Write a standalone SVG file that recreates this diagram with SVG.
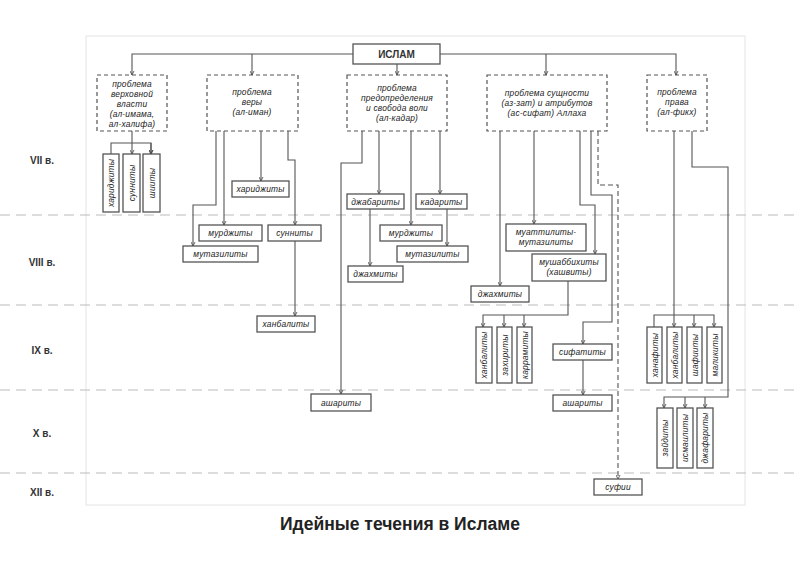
<svg xmlns="http://www.w3.org/2000/svg" width="800" height="561" viewBox="0 0 800 561">
<defs>
<marker id="a" viewBox="0 0 10 10" refX="9" refY="5" markerWidth="5" markerHeight="5" orient="auto" markerUnits="userSpaceOnUse"><path d="M1,1 L9,5 L1,9" fill="none" stroke="#444" stroke-width="1.6"/></marker>
<style>
.b{fill:#fff;stroke:#555;stroke-width:1.3}
.d{fill:#fff;stroke:#555;stroke-width:1.2;stroke-dasharray:4,3}
.t{font-family:"Liberation Sans",Arial,sans-serif;font-style:italic;font-size:8.4px;letter-spacing:0.2px;fill:#222;text-anchor:middle}
.e{font-family:"Liberation Sans",Arial,sans-serif;font-weight:bold;font-size:10px;fill:#333;text-anchor:middle}
.c path{fill:none;stroke:#555;stroke-width:1.1}
.c path.ar{marker-end:url(#a)}
</style>
</defs>
<rect width="800" height="561" fill="#fff"/>
<rect x="86" y="36" width="659" height="469" fill="none" stroke="#e4e4e4" stroke-width="1"/>
<g stroke="#bbb" stroke-width="1" stroke-dasharray="10,6">
<line x1="0" y1="215" x2="800" y2="215"/><line x1="0" y1="305" x2="800" y2="305"/><line x1="0" y1="390" x2="800" y2="390"/><line x1="0" y1="473" x2="800" y2="473"/>
</g>
<g class="e"><text x="42" y="164">VII в.</text><text x="42" y="266">VIII в.</text><text x="42" y="354">IX в.</text><text x="42" y="437">X в.</text><text x="42" y="496">XII в.</text></g>
<g class="c" id="connectors">
<path d="M353,54 H132 V75" class="ar"/><path d="M252,54 V75" class="ar"/><path d="M397,64 V75" class="ar"/>
<path d="M440,54 H676 V75" class="ar"/><path d="M546,54 V75" class="ar"/>
<path d="M132,131 V154" class="ar"/><path d="M111,154 V143 H151 V154" class="ar"/><path d="M151,143 V154" class="ar"/>
<path d="M261,131 V181" class="ar"/>
<path d="M216,131 V205 H193 V246" class="ar"/>
<path d="M224,131 V225" class="ar"/>
<path d="M288,131 V160 H295 V225" class="ar"/>
<path d="M295,241 V316" class="ar"/>
<path d="M362,131 V163 H341 V394" class="ar"/>
<path d="M379,131 V194" class="ar"/>
<path d="M370,209 V266" class="ar"/>
<path d="M411,131 V225" class="ar"/>
<path d="M440,131 V194" class="ar"/>
<path d="M447,209 V246" class="ar"/>
<path d="M500,131 V286" class="ar"/>
<path d="M534,131 V224" class="ar"/>
<path d="M580,131 V205 H595 V254" class="ar"/>
<path d="M591,131 V195 H612 V322 H583 V344" class="ar"/>
<path d="M583,360 V395" class="ar"/>
<path d="M598,131 V185 H618 V479" class="ar" stroke-dasharray="5,3"/>
<path d="M568,281 V315 H483 V327" class="ar"/><path d="M504,315 V327" class="ar"/><path d="M524,315 V327" class="ar"/>
<path d="M674,131 V327" class="ar"/><path d="M654,327 V315 H714 V327" class="ar"/><path d="M694,315 V327" class="ar"/>
<path d="M692,131 V167 H728 V397 H664 V408" class="ar"/><path d="M685,397 V408" class="ar"/><path d="M705,397 V408" class="ar"/>
</g>
<g id="islam"><rect class="b" x="353" y="44" width="87" height="20"/><text class="e" x="396.5" y="58" font-size="11.5">ИСЛАМ</text></g>
<g id="p1"><rect class="d" x="97" y="75" width="70" height="56"/><text class="t" x="132" y="87">проблема<tspan x="132" dy="10">верховной</tspan><tspan x="132" dy="10">власти</tspan><tspan x="132" dy="10">(ал-имама,</tspan><tspan x="132" dy="10">ал-халифа)</tspan></text></g>
<g id="p2"><rect class="d" x="207" y="75" width="91" height="56"/><text class="t" x="252" y="95">проблема<tspan x="252" dy="10">веры</tspan><tspan x="252" dy="10">(ал-иман)</tspan></text></g>
<g id="p3"><rect class="d" x="347" y="75" width="100" height="56"/><text class="t" x="397" y="91">проблема<tspan x="397" dy="10">предопределения</tspan><tspan x="397" dy="10">и свобода воли</tspan><tspan x="397" dy="10">(ал-кадар)</tspan></text></g>
<g id="p4"><rect class="d" x="487" y="75" width="120" height="56"/><text class="t" x="547" y="96">проблема сущности<tspan x="547" dy="10">(аз-зат) и атрибутов</tspan><tspan x="547" dy="10">(ас-сифат) Аллаха</tspan></text></g>
<g id="p5"><rect class="d" x="647" y="75" width="60" height="56"/><text class="t" x="677" y="95">проблема<tspan x="677" dy="10">права</tspan><tspan x="677" dy="10">(ал-фикх)</tspan></text></g>
<g id="v1"><rect class="b" x="103" y="154" width="16" height="58"/><text class="t" transform="translate(114,183) rotate(-90)">хариджиты</text></g>
<g id="v2"><rect class="b" x="123" y="154" width="17" height="58"/><text class="t" transform="translate(134.5,183) rotate(-90)">сунниты</text></g>
<g id="v3"><rect class="b" x="143" y="154" width="17" height="58"/><text class="t" transform="translate(154.5,183) rotate(-90)">шииты</text></g>
<g id="n1"><rect class="b" x="232" y="181" width="57" height="16"/><text class="t" x="260.5" y="192">хариджиты</text></g>
<g id="n2"><rect class="b" x="199" y="225" width="63" height="16"/><text class="t" x="230.5" y="236">мурджиты</text></g>
<g id="n3"><rect class="b" x="268" y="225" width="53" height="16"/><text class="t" x="294.5" y="236">сунниты</text></g>
<g id="n4"><rect class="b" x="183" y="246" width="75" height="16"/><text class="t" x="220.5" y="257">мутазилиты</text></g>
<g id="n5"><rect class="b" x="257" y="316" width="58" height="16"/><text class="t" x="286" y="327">ханбалиты</text></g>
<g id="n6"><rect class="b" x="347" y="194" width="57" height="15"/><text class="t" x="375.5" y="205">джабариты</text></g>
<g id="n7"><rect class="b" x="416" y="194" width="51" height="15"/><text class="t" x="441.5" y="205">кадариты</text></g>
<g id="n8"><rect class="b" x="380" y="225" width="62" height="16"/><text class="t" x="411" y="236">мурджиты</text></g>
<g id="n9"><rect class="b" x="397" y="246" width="71" height="16"/><text class="t" x="432.5" y="257">мутазилиты</text></g>
<g id="n10"><rect class="b" x="348" y="266" width="55" height="16"/><text class="t" x="375.5" y="277">джахмиты</text></g>
<g id="n11"><rect class="b" x="311" y="394" width="60" height="17"/><text class="t" x="341" y="405.5">ашариты</text></g>
<g id="n12"><rect class="b" x="506" y="224" width="80" height="27"/><text class="t" x="546" y="235">муаттилиты-<tspan x="546" dy="10">мутазилиты</tspan></text></g>
<g id="n13"><rect class="b" x="532" y="254" width="74" height="27"/><text class="t" x="569" y="265">мушаббихиты<tspan x="569" dy="10">(хашвиты)</tspan></text></g>
<g id="n14"><rect class="b" x="471" y="286" width="58" height="16"/><text class="t" x="500" y="297">джахмиты</text></g>
<g id="n15"><rect class="b" x="553" y="344" width="59" height="16"/><text class="t" x="582.5" y="355">сифатиты</text></g>
<g id="n16"><rect class="b" x="553" y="395" width="59" height="16"/><text class="t" x="582.5" y="406">ашариты</text></g>
<g id="n17"><rect class="b" x="594" y="479" width="48" height="16"/><text class="t" x="618" y="490">суфии</text></g>
<g id="v4"><rect class="b" x="476" y="327" width="16" height="56"/><text class="t" transform="translate(487,355) rotate(-90)">ханбалиты</text></g>
<g id="v5"><rect class="b" x="497" y="327" width="15" height="56"/><text class="t" transform="translate(507.5,355) rotate(-90)">захириты</text></g>
<g id="v6"><rect class="b" x="517" y="327" width="15" height="56"/><text class="t" transform="translate(527.5,355) rotate(-90)">каррамиты</text></g>
<g id="v7"><rect class="b" x="647" y="327" width="15" height="56"/><text class="t" transform="translate(657.5,355) rotate(-90)">ханафиты</text></g>
<g id="v8"><rect class="b" x="667" y="327" width="15" height="56"/><text class="t" transform="translate(677.5,355) rotate(-90)">ханбалиты</text></g>
<g id="v9"><rect class="b" x="687" y="327" width="15" height="56"/><text class="t" transform="translate(697.5,355) rotate(-90)">шафииты</text></g>
<g id="v10"><rect class="b" x="707" y="327" width="15" height="56"/><text class="t" transform="translate(717.5,355) rotate(-90)">маликиты</text></g>
<g id="v11"><rect class="b" x="657" y="408" width="16" height="60"/><text class="t" transform="translate(668,438) rotate(-90)">зайдиты</text></g>
<g id="v12"><rect class="b" x="677" y="408" width="16" height="60"/><text class="t" transform="translate(688,438) rotate(-90)">исмаилиты</text></g>
<g id="v13"><rect class="b" x="697" y="408" width="16" height="60"/><text class="t" transform="translate(708,438) rotate(-90)">джафариты</text></g>
<text x="400" y="530" font-family="'Liberation Sans',Arial,sans-serif" font-weight="bold" font-size="17.5" fill="#222" text-anchor="middle">Идейные течения в Исламе</text>
</svg>
